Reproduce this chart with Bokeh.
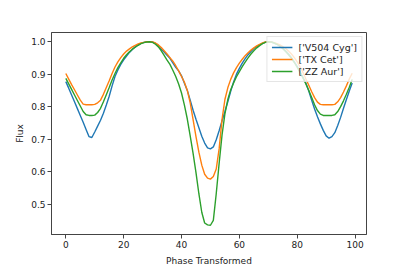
from bokeh.plotting import figure
from bokeh.models import Range1d, FixedTicker, PrintfTickFormatter, ColumnDataSource
from bokeh.embed import file_html
from bokeh.resources import INLINE

phase = list(range(100))

v504_cyg = [
    0.877, 0.857, 0.836, 0.815, 0.794, 0.773, 0.752, 0.730, 0.708, 0.705,
    0.722, 0.740, 0.758, 0.780, 0.805, 0.832, 0.864, 0.893, 0.913, 0.930,
    0.944, 0.956, 0.967, 0.976, 0.984, 0.990, 0.995, 0.998, 1.000, 1.000,
    0.999, 0.995, 0.988, 0.977, 0.968, 0.958, 0.949, 0.935, 0.921, 0.910,
    0.895, 0.872, 0.850, 0.820, 0.789, 0.761, 0.735, 0.709, 0.688, 0.673,
    0.670, 0.676, 0.698, 0.726, 0.756, 0.785, 0.815, 0.847, 0.876, 0.900,
    0.918, 0.934, 0.948, 0.960, 0.970, 0.979, 0.985, 0.990, 0.995, 0.999,
    1.000, 0.999, 0.996, 0.992, 0.986, 0.979, 0.971, 0.962, 0.951, 0.938,
    0.924, 0.908, 0.890, 0.872, 0.848, 0.820, 0.793, 0.769, 0.747, 0.727,
    0.710, 0.703, 0.708, 0.720, 0.742, 0.767, 0.795, 0.822, 0.848, 0.873,
]

tx_cet = [
    0.902, 0.885, 0.868, 0.852, 0.836, 0.820, 0.808, 0.806, 0.806, 0.806,
    0.807, 0.812, 0.820, 0.838, 0.859, 0.880, 0.902, 0.922, 0.938, 0.951,
    0.962, 0.971, 0.978, 0.984, 0.989, 0.993, 0.996, 0.998, 1.000, 1.000,
    0.999, 0.996, 0.990, 0.982, 0.972, 0.962, 0.951, 0.940, 0.926, 0.910,
    0.893, 0.875, 0.850, 0.812, 0.760, 0.708, 0.660, 0.620, 0.592, 0.580,
    0.577, 0.585, 0.608, 0.670, 0.760, 0.822, 0.858, 0.884, 0.904, 0.920,
    0.934, 0.946, 0.957, 0.966, 0.974, 0.981, 0.987, 0.992, 0.996, 0.999,
    1.000, 0.999, 0.997, 0.994, 0.990, 0.985, 0.979, 0.971, 0.962, 0.951,
    0.938, 0.922, 0.905, 0.885, 0.866, 0.846, 0.828, 0.814, 0.807, 0.806,
    0.806, 0.806, 0.806, 0.807, 0.815, 0.828, 0.845, 0.864, 0.885, 0.903,
]

zz_aur = [
    0.887, 0.870, 0.853, 0.836, 0.819, 0.802, 0.785, 0.775, 0.773, 0.773,
    0.774, 0.782, 0.795, 0.815, 0.837, 0.859, 0.882, 0.902, 0.920, 0.935,
    0.949, 0.960, 0.969, 0.977, 0.983, 0.989, 0.994, 0.997, 0.999, 1.000,
    0.998, 0.992, 0.984, 0.972, 0.958, 0.943, 0.930, 0.912, 0.893, 0.870,
    0.842, 0.805, 0.762, 0.710, 0.656, 0.597, 0.532, 0.475, 0.442, 0.436,
    0.435, 0.450, 0.532, 0.625, 0.712, 0.778, 0.822, 0.852, 0.873, 0.892,
    0.908, 0.923, 0.937, 0.950, 0.962, 0.972, 0.981, 0.988, 0.994, 0.998,
    1.000, 0.999, 0.996, 0.992, 0.986, 0.979, 0.970, 0.960, 0.949, 0.936,
    0.921, 0.905, 0.888, 0.870, 0.850, 0.828, 0.806, 0.788, 0.777, 0.773,
    0.773, 0.773, 0.773, 0.775, 0.785, 0.800, 0.818, 0.838, 0.860, 0.884,
]

series_names = ["['V504 Cyg']", "['TX Cet']", "['ZZ Aur']"]
series_colors = ["#1f77b4", "#ff7f0e", "#2ca02c"]
x_ticks = [0, 20, 40, 60, 80, 100]
y_ticks = [0.5, 0.6, 0.7, 0.8, 0.9, 1.0]

FONT = "DejaVu Sans"

p = figure(width=400, height=268, output_backend="svg", toolbar_location=None,
           x_range=Range1d(-4.95, 103.95), y_range=Range1d(0.4065, 1.0283),
           min_border_left=51, min_border_right=34, min_border_top=32, min_border_bottom=31)

src = ColumnDataSource(dict(phase=phase, a=v504_cyg, b=tx_cet, c=zz_aur))
for col, name, color in zip(["a", "b", "c"], series_names, series_colors):
    p.line("phase", col, source=src, line_color=color, line_width=1.4, legend_label=name)

p.xgrid.visible = False
p.ygrid.visible = False
p.outline_line_color = "#444444"
p.outline_line_width = 1
p.background_fill_color = "white"
p.border_fill_color = "white"

p.xaxis.ticker = FixedTicker(ticks=x_ticks)
p.xaxis.formatter = PrintfTickFormatter(format="%d")
p.yaxis.ticker = FixedTicker(ticks=y_ticks)
p.yaxis.formatter = PrintfTickFormatter(format="%.1f")
p.xaxis.axis_label = "Phase Transformed"
p.yaxis.axis_label = "Flux"

for ax in [p.xaxis[0], p.yaxis[0]]:
    ax.axis_line_color = "#444444"
    ax.major_tick_line_color = "#444444"
    ax.minor_tick_line_color = None
    ax.major_tick_in = 0
    ax.major_tick_out = 4
    ax.major_label_text_font = FONT
    ax.major_label_text_font_size = "9px"
    ax.major_label_text_color = "#222222"
    ax.axis_label_text_font = FONT
    ax.axis_label_text_font_size = "9px"
    ax.axis_label_text_font_style = "normal"
    ax.axis_label_text_color = "#222222"
    ax.major_label_standoff = 2
    ax.axis_label_standoff = 5
p.yaxis[0].axis_label_standoff = 3

leg = p.legend[0]
leg.location = "top_right"
leg.margin = 4
leg.padding = 4
leg.spacing = 0
leg.label_height = 12
leg.glyph_height = 12
leg.glyph_width = 21
leg.label_standoff = 6
leg.label_text_font = FONT
leg.label_text_font_size = "9.5px"
leg.label_text_color = "#222222"
leg.border_line_color = "#cccccc"
leg.border_line_width = 1
leg.background_fill_alpha = 0.8

open("out.html", "w").write(file_html(p, INLINE))
